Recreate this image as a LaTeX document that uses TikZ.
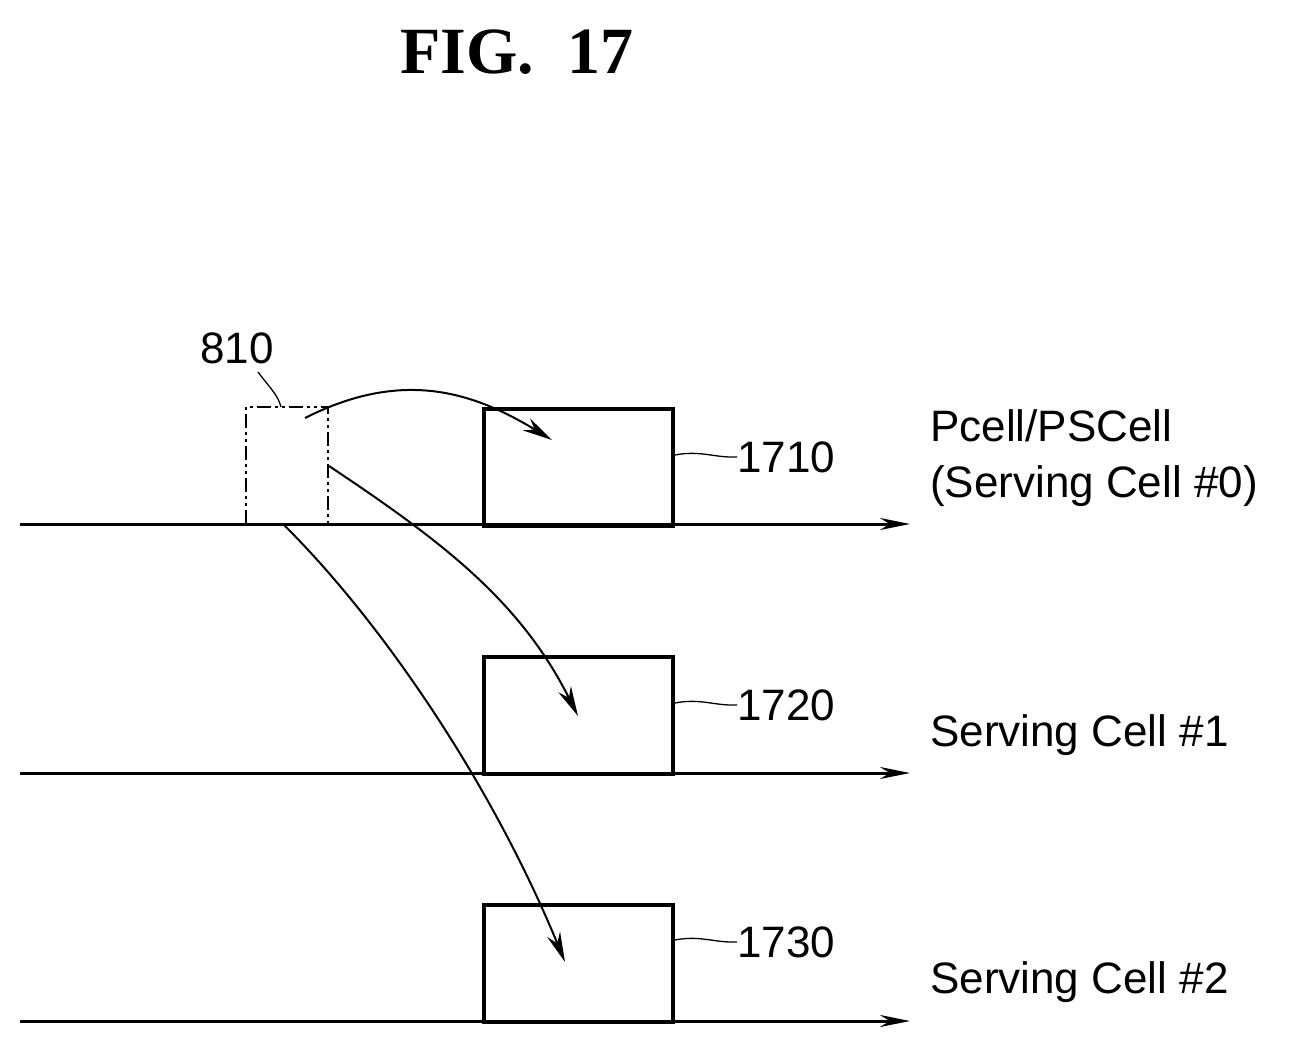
\documentclass[tikz,border=0pt]{standalone}
\usepackage{fontspec}
\setmainfont{Liberation Sans}
\newfontfamily\titlefont{Liberation Serif}
\usetikzlibrary{arrows.meta}
\begin{document}
\begin{tikzpicture}[x=1pt,y=-1pt,
  axis/.style={line width=3pt,-{Stealth[length=30pt,width=12pt]}},
  blk/.style={draw,line width=4pt,minimum width=189pt,minimum height=117pt,anchor=north west,inner sep=0},
  con/.style={line width=2pt,-{Stealth[length=30pt,width=14pt]}},
  lbl/.style={font=\fontsize{44}{50}\selectfont,anchor=west,inner sep=0},
  txt/.style={font=\fontsize{44}{56}\selectfont,anchor=west,inner sep=0,align=left}]
\useasboundingbox (0,0) rectangle (1313,1049);
\node[font=\titlefont\bfseries\fontsize{66}{70}\selectfont] (title) at (517,52) {FIG.\ \ 17};
\coordinate (a0s) at (20,524); \coordinate (a0e) at (910,524);
\coordinate (a1s) at (20,773); \coordinate (a1e) at (910,773);
\coordinate (a2s) at (20,1021); \coordinate (a2e) at (910,1021);
\draw[axis] (a0s) -- (a0e);
\draw[axis] (a1s) -- (a1e);
\draw[axis] (a2s) -- (a2e);
\node[blk] (b0) at (482,407) {};
\node[blk] (b1) at (482,655) {};
\node[blk] (b2) at (482,903) {};
\draw[line width=2.5pt,dash pattern=on 14pt off 4pt on 3pt off 4pt on 3pt off 4pt] (246,524) -- (246,407) -- (328,407) -- (328,524);
\coordinate (s0) at (305,418); \coordinate (e0) at (552,440);
\coordinate (s1) at (329,466); \coordinate (e1) at (578,716);
\coordinate (s2) at (283,524); \coordinate (e2) at (565,962);
\draw[con] (s0) .. controls (400,370) and (470,390) .. (e0);
\draw[con] (s1) .. controls (440,540) and (520,600) .. (e1);
\draw[con] (s2) .. controls (380,620) and (490,780) .. (e2);
\node[font=\fontsize{44}{50}\selectfont] (n810) at (237,348) {810};
\draw[line width=1.3pt] (258,372) .. controls (270,388) and (278,395) .. (281,407);
\node[lbl] (l0) at (737,457) {1710};
\node[lbl] (l1) at (737,705) {1720};
\node[lbl] (l2) at (737,942) {1730};
\draw[line width=1.3pt] (b0.east |- 0,455) .. controls (700,450) and (715,458) .. (l0.west);
\draw[line width=1.3pt] (b1.east |- 0,703) .. controls (700,698) and (715,706) .. (l1.west);
\draw[line width=1.3pt] (b2.east |- 0,940) .. controls (700,935) and (715,943) .. (l2.west);
\node[txt] (t0) at (930,458) {Pcell/PSCell\\(Serving Cell \#0)};
\node[txt] (t1) at (930,735) {Serving Cell \#1};
\node[txt] (t2) at (930,982) {Serving Cell \#2};
\end{tikzpicture}
\end{document}
